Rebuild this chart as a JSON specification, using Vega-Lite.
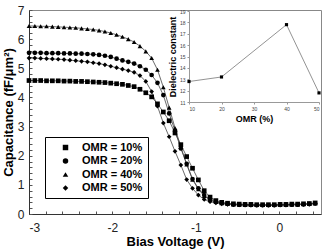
{
  "$schema": "https://vega.github.io/schema/vega-lite/v6.json",
  "width": 292,
  "height": 204,
  "autosize": "none",
  "padding": {"left": 29, "top": 10, "right": 5, "bottom": 36},
  "background": "white",
  "config": {
    "view": {"stroke": "#888", "strokeWidth": 1},
    "font": "Liberation Sans"
  },
  "datasets": {
    "cv": [
      {"v": -3, "c": 4.58, "s": "OMR = 10%"}, {"v": -2.93, "c": 4.58, "s": "OMR = 10%"}, {"v": -2.86, "c": 4.58, "s": "OMR = 10%"}, {"v": -2.79, "c": 4.57, "s": "OMR = 10%"}, {"v": -2.72, "c": 4.57, "s": "OMR = 10%"}, {"v": -2.65, "c": 4.57, "s": "OMR = 10%"}, {"v": -2.58, "c": 4.56, "s": "OMR = 10%"}, {"v": -2.51, "c": 4.56, "s": "OMR = 10%"}, {"v": -2.44, "c": 4.55, "s": "OMR = 10%"}, {"v": -2.37, "c": 4.55, "s": "OMR = 10%"},
      {"v": -2.3, "c": 4.54, "s": "OMR = 10%"}, {"v": -2.23, "c": 4.53, "s": "OMR = 10%"}, {"v": -2.16, "c": 4.52, "s": "OMR = 10%"}, {"v": -2.09, "c": 4.51, "s": "OMR = 10%"}, {"v": -2.02, "c": 4.49, "s": "OMR = 10%"}, {"v": -1.95, "c": 4.47, "s": "OMR = 10%"}, {"v": -1.88, "c": 4.45, "s": "OMR = 10%"}, {"v": -1.81, "c": 4.41, "s": "OMR = 10%"}, {"v": -1.74, "c": 4.37, "s": "OMR = 10%"}, {"v": -1.67, "c": 4.28, "s": "OMR = 10%"},
      {"v": -1.6, "c": 4.16, "s": "OMR = 10%"}, {"v": -1.53, "c": 4.02, "s": "OMR = 10%"}, {"v": -1.46, "c": 3.78, "s": "OMR = 10%"}, {"v": -1.39, "c": 3.5, "s": "OMR = 10%"}, {"v": -1.32, "c": 3.2, "s": "OMR = 10%"}, {"v": -1.25, "c": 2.78, "s": "OMR = 10%"}, {"v": -1.18, "c": 2.38, "s": "OMR = 10%"}, {"v": -1.11, "c": 1.97, "s": "OMR = 10%"}, {"v": -1.04, "c": 1.57, "s": "OMR = 10%"}, {"v": -0.97, "c": 1.17, "s": "OMR = 10%"},
      {"v": -0.9, "c": 0.8, "s": "OMR = 10%"}, {"v": -0.83, "c": 0.58, "s": "OMR = 10%"}, {"v": -0.76, "c": 0.46, "s": "OMR = 10%"}, {"v": -0.69, "c": 0.4, "s": "OMR = 10%"}, {"v": -0.62, "c": 0.37, "s": "OMR = 10%"}, {"v": -0.55, "c": 0.35, "s": "OMR = 10%"}, {"v": -0.48, "c": 0.34, "s": "OMR = 10%"}, {"v": -0.41, "c": 0.33, "s": "OMR = 10%"}, {"v": -0.34, "c": 0.33, "s": "OMR = 10%"}, {"v": -0.27, "c": 0.32, "s": "OMR = 10%"},
      {"v": -0.2, "c": 0.32, "s": "OMR = 10%"}, {"v": -0.13, "c": 0.32, "s": "OMR = 10%"}, {"v": -0.06, "c": 0.32, "s": "OMR = 10%"}, {"v": 0.01, "c": 0.33, "s": "OMR = 10%"}, {"v": 0.08, "c": 0.33, "s": "OMR = 10%"}, {"v": 0.15, "c": 0.34, "s": "OMR = 10%"}, {"v": 0.22, "c": 0.34, "s": "OMR = 10%"}, {"v": 0.29, "c": 0.35, "s": "OMR = 10%"}, {"v": 0.36, "c": 0.36, "s": "OMR = 10%"}, {"v": 0.43, "c": 0.38, "s": "OMR = 10%"},

      {"v": -3, "c": 5.53, "s": "OMR = 20%"}, {"v": -2.93, "c": 5.53, "s": "OMR = 20%"}, {"v": -2.86, "c": 5.53, "s": "OMR = 20%"}, {"v": -2.79, "c": 5.52, "s": "OMR = 20%"}, {"v": -2.72, "c": 5.52, "s": "OMR = 20%"}, {"v": -2.65, "c": 5.52, "s": "OMR = 20%"}, {"v": -2.58, "c": 5.51, "s": "OMR = 20%"}, {"v": -2.51, "c": 5.51, "s": "OMR = 20%"}, {"v": -2.44, "c": 5.5, "s": "OMR = 20%"}, {"v": -2.37, "c": 5.5, "s": "OMR = 20%"},
      {"v": -2.3, "c": 5.49, "s": "OMR = 20%"}, {"v": -2.23, "c": 5.48, "s": "OMR = 20%"}, {"v": -2.16, "c": 5.46, "s": "OMR = 20%"}, {"v": -2.09, "c": 5.43, "s": "OMR = 20%"}, {"v": -2.02, "c": 5.39, "s": "OMR = 20%"}, {"v": -1.95, "c": 5.33, "s": "OMR = 20%"}, {"v": -1.88, "c": 5.27, "s": "OMR = 20%"}, {"v": -1.81, "c": 5.22, "s": "OMR = 20%"}, {"v": -1.74, "c": 5.16, "s": "OMR = 20%"}, {"v": -1.67, "c": 5.07, "s": "OMR = 20%"},
      {"v": -1.6, "c": 4.95, "s": "OMR = 20%"}, {"v": -1.53, "c": 4.77, "s": "OMR = 20%"}, {"v": -1.46, "c": 4.5, "s": "OMR = 20%"}, {"v": -1.39, "c": 4.08, "s": "OMR = 20%"}, {"v": -1.32, "c": 3.45, "s": "OMR = 20%"}, {"v": -1.25, "c": 2.85, "s": "OMR = 20%"}, {"v": -1.18, "c": 2.25, "s": "OMR = 20%"}, {"v": -1.11, "c": 1.72, "s": "OMR = 20%"}, {"v": -1.04, "c": 1.2, "s": "OMR = 20%"}, {"v": -0.97, "c": 0.88, "s": "OMR = 20%"},
      {"v": -0.9, "c": 0.65, "s": "OMR = 20%"}, {"v": -0.83, "c": 0.5, "s": "OMR = 20%"}, {"v": -0.76, "c": 0.42, "s": "OMR = 20%"}, {"v": -0.69, "c": 0.38, "s": "OMR = 20%"}, {"v": -0.62, "c": 0.35, "s": "OMR = 20%"}, {"v": -0.55, "c": 0.33, "s": "OMR = 20%"}, {"v": -0.48, "c": 0.32, "s": "OMR = 20%"}, {"v": -0.41, "c": 0.31, "s": "OMR = 20%"}, {"v": -0.34, "c": 0.31, "s": "OMR = 20%"}, {"v": -0.27, "c": 0.3, "s": "OMR = 20%"},
      {"v": -0.2, "c": 0.3, "s": "OMR = 20%"}, {"v": -0.13, "c": 0.3, "s": "OMR = 20%"}, {"v": -0.06, "c": 0.3, "s": "OMR = 20%"}, {"v": 0.01, "c": 0.31, "s": "OMR = 20%"}, {"v": 0.08, "c": 0.31, "s": "OMR = 20%"}, {"v": 0.15, "c": 0.32, "s": "OMR = 20%"}, {"v": 0.22, "c": 0.32, "s": "OMR = 20%"}, {"v": 0.29, "c": 0.33, "s": "OMR = 20%"}, {"v": 0.36, "c": 0.34, "s": "OMR = 20%"}, {"v": 0.43, "c": 0.36, "s": "OMR = 20%"},

      {"v": -3, "c": 6.45, "s": "OMR = 40%"}, {"v": -2.93, "c": 6.45, "s": "OMR = 40%"}, {"v": -2.86, "c": 6.44, "s": "OMR = 40%"}, {"v": -2.79, "c": 6.44, "s": "OMR = 40%"}, {"v": -2.72, "c": 6.43, "s": "OMR = 40%"}, {"v": -2.65, "c": 6.42, "s": "OMR = 40%"}, {"v": -2.58, "c": 6.41, "s": "OMR = 40%"}, {"v": -2.51, "c": 6.4, "s": "OMR = 40%"}, {"v": -2.44, "c": 6.39, "s": "OMR = 40%"}, {"v": -2.37, "c": 6.37, "s": "OMR = 40%"},
      {"v": -2.3, "c": 6.35, "s": "OMR = 40%"}, {"v": -2.23, "c": 6.33, "s": "OMR = 40%"}, {"v": -2.16, "c": 6.3, "s": "OMR = 40%"}, {"v": -2.09, "c": 6.26, "s": "OMR = 40%"}, {"v": -2.02, "c": 6.21, "s": "OMR = 40%"}, {"v": -1.95, "c": 6.15, "s": "OMR = 40%"}, {"v": -1.88, "c": 6.08, "s": "OMR = 40%"}, {"v": -1.81, "c": 6.0, "s": "OMR = 40%"}, {"v": -1.74, "c": 5.9, "s": "OMR = 40%"}, {"v": -1.67, "c": 5.76, "s": "OMR = 40%"},
      {"v": -1.6, "c": 5.58, "s": "OMR = 40%"}, {"v": -1.53, "c": 5.35, "s": "OMR = 40%"}, {"v": -1.46, "c": 4.95, "s": "OMR = 40%"}, {"v": -1.39, "c": 4.35, "s": "OMR = 40%"}, {"v": -1.32, "c": 3.65, "s": "OMR = 40%"}, {"v": -1.25, "c": 2.95, "s": "OMR = 40%"}, {"v": -1.18, "c": 2.3, "s": "OMR = 40%"}, {"v": -1.11, "c": 1.7, "s": "OMR = 40%"}, {"v": -1.04, "c": 1.18, "s": "OMR = 40%"}, {"v": -0.97, "c": 0.85, "s": "OMR = 40%"},
      {"v": -0.9, "c": 0.62, "s": "OMR = 40%"}, {"v": -0.83, "c": 0.48, "s": "OMR = 40%"}, {"v": -0.76, "c": 0.41, "s": "OMR = 40%"}, {"v": -0.69, "c": 0.37, "s": "OMR = 40%"}, {"v": -0.62, "c": 0.35, "s": "OMR = 40%"}, {"v": -0.55, "c": 0.33, "s": "OMR = 40%"}, {"v": -0.48, "c": 0.32, "s": "OMR = 40%"}, {"v": -0.41, "c": 0.32, "s": "OMR = 40%"}, {"v": -0.34, "c": 0.31, "s": "OMR = 40%"}, {"v": -0.27, "c": 0.31, "s": "OMR = 40%"},
      {"v": -0.2, "c": 0.31, "s": "OMR = 40%"}, {"v": -0.13, "c": 0.31, "s": "OMR = 40%"}, {"v": -0.06, "c": 0.31, "s": "OMR = 40%"}, {"v": 0.01, "c": 0.32, "s": "OMR = 40%"}, {"v": 0.08, "c": 0.32, "s": "OMR = 40%"}, {"v": 0.15, "c": 0.33, "s": "OMR = 40%"}, {"v": 0.22, "c": 0.33, "s": "OMR = 40%"}, {"v": 0.29, "c": 0.34, "s": "OMR = 40%"}, {"v": 0.36, "c": 0.35, "s": "OMR = 40%"}, {"v": 0.43, "c": 0.37, "s": "OMR = 40%"},

      {"v": -3, "c": 5.35, "s": "OMR = 50%"}, {"v": -2.93, "c": 5.35, "s": "OMR = 50%"}, {"v": -2.86, "c": 5.34, "s": "OMR = 50%"}, {"v": -2.79, "c": 5.33, "s": "OMR = 50%"}, {"v": -2.72, "c": 5.32, "s": "OMR = 50%"}, {"v": -2.65, "c": 5.31, "s": "OMR = 50%"}, {"v": -2.58, "c": 5.3, "s": "OMR = 50%"}, {"v": -2.51, "c": 5.28, "s": "OMR = 50%"}, {"v": -2.44, "c": 5.26, "s": "OMR = 50%"}, {"v": -2.37, "c": 5.24, "s": "OMR = 50%"},
      {"v": -2.3, "c": 5.22, "s": "OMR = 50%"}, {"v": -2.23, "c": 5.19, "s": "OMR = 50%"}, {"v": -2.16, "c": 5.16, "s": "OMR = 50%"}, {"v": -2.09, "c": 5.12, "s": "OMR = 50%"}, {"v": -2.02, "c": 5.07, "s": "OMR = 50%"}, {"v": -1.95, "c": 5.02, "s": "OMR = 50%"}, {"v": -1.88, "c": 4.97, "s": "OMR = 50%"}, {"v": -1.81, "c": 4.92, "s": "OMR = 50%"}, {"v": -1.74, "c": 4.86, "s": "OMR = 50%"}, {"v": -1.67, "c": 4.75, "s": "OMR = 50%"},
      {"v": -1.6, "c": 4.55, "s": "OMR = 50%"}, {"v": -1.53, "c": 4.2, "s": "OMR = 50%"}, {"v": -1.46, "c": 3.7, "s": "OMR = 50%"}, {"v": -1.39, "c": 3.12, "s": "OMR = 50%"}, {"v": -1.32, "c": 2.65, "s": "OMR = 50%"}, {"v": -1.25, "c": 2.15, "s": "OMR = 50%"}, {"v": -1.18, "c": 1.68, "s": "OMR = 50%"}, {"v": -1.11, "c": 1.18, "s": "OMR = 50%"}, {"v": -1.04, "c": 0.88, "s": "OMR = 50%"}, {"v": -0.97, "c": 0.65, "s": "OMR = 50%"},
      {"v": -0.9, "c": 0.5, "s": "OMR = 50%"}, {"v": -0.83, "c": 0.42, "s": "OMR = 50%"}, {"v": -0.76, "c": 0.38, "s": "OMR = 50%"}, {"v": -0.69, "c": 0.35, "s": "OMR = 50%"}, {"v": -0.62, "c": 0.33, "s": "OMR = 50%"}, {"v": -0.55, "c": 0.32, "s": "OMR = 50%"}, {"v": -0.48, "c": 0.31, "s": "OMR = 50%"}, {"v": -0.41, "c": 0.31, "s": "OMR = 50%"}, {"v": -0.34, "c": 0.3, "s": "OMR = 50%"}, {"v": -0.27, "c": 0.3, "s": "OMR = 50%"},
      {"v": -0.2, "c": 0.3, "s": "OMR = 50%"}, {"v": -0.13, "c": 0.3, "s": "OMR = 50%"}, {"v": -0.06, "c": 0.3, "s": "OMR = 50%"}, {"v": 0.01, "c": 0.31, "s": "OMR = 50%"}, {"v": 0.08, "c": 0.31, "s": "OMR = 50%"}, {"v": 0.15, "c": 0.32, "s": "OMR = 50%"}, {"v": 0.22, "c": 0.32, "s": "OMR = 50%"}, {"v": 0.29, "c": 0.33, "s": "OMR = 50%"}, {"v": 0.36, "c": 0.34, "s": "OMR = 50%"}, {"v": 0.43, "c": 0.36, "s": "OMR = 50%"}
    ],
    "inset": [
      {"omr": 10, "k": 12.8},
      {"omr": 20, "k": 13.2},
      {"omr": 40, "k": 17.8},
      {"omr": 50, "k": 11.8}
    ]
  },
  "layer": [
    {
      "data": {"name": "cv"},
      "encoding": {
        "x": {
          "field": "v", "type": "quantitative",
          "scale": {"domain": [-3, 0.5], "nice": false, "zero": false},
          "axis": {
            "title": "Bias Voltage (V)",
            "values": [-3, -2.8, -2.6, -2.4, -2.2, -2, -1.8, -1.6, -1.4, -1.2, -1, -0.8, -0.6, -0.4, -0.2, 0, 0.2, 0.4],
            "labelExpr": "datum.value % 1 === 0 ? '' + datum.value : ''",
            "grid": false, "domainColor": "#333", "tickColor": "#555",
            "tickSize": -3, "labelPadding": 11,
            "labelFont": "Liberation Sans", "labelFontSize": 12, "labelColor": "#222",
            "titleFont": "Liberation Sans", "titleFontSize": 13, "titleFontWeight": "bold", "titleColor": "black",
            "titlePadding": 2
          }
        },
        "y": {
          "field": "c", "type": "quantitative",
          "scale": {"domain": [0, 7], "nice": false},
          "axis": {
            "title": "Capacitance (fF/μm²)",
            "values": [0, 0.2, 0.4, 0.6, 0.8, 1, 1.2, 1.4, 1.6, 1.8, 2, 2.2, 2.4, 2.6, 2.8, 3, 3.2, 3.4, 3.6, 3.8, 4, 4.2, 4.4, 4.6, 4.8, 5, 5.2, 5.4, 5.6, 5.8, 6, 6.2, 6.4, 6.6, 6.8, 7],
            "labelExpr": "datum.value % 1 === 0 ? '' + datum.value : ''",
            "grid": false, "domainColor": "#333", "tickColor": "#555",
            "tickSize": -3, "labelPadding": 8,
            "labelFont": "Liberation Sans", "labelFontSize": 12, "labelColor": "#222",
            "titleFont": "Liberation Sans", "titleFontSize": 13, "titleFontWeight": "bold", "titleColor": "black",
            "titlePadding": 2
          }
        }
      },
      "layer": [
        {"mark": {"type": "line", "color": "#444", "strokeWidth": 0.8}, "encoding": {"detail": {"field": "s"}}},
        {
          "mark": {"type": "point", "filled": true, "color": "black", "size": 22, "opacity": 1},
          "encoding": {
            "shape": {
              "field": "s", "type": "nominal",
              "scale": {
                "domain": ["OMR = 10%", "OMR = 20%", "OMR = 40%", "OMR = 50%"],
                "range": ["square", "circle", "triangle-up", "diamond"]
              },
              "legend": {
                "title": null, "orient": "bottom-left", "offset": 16,
                "strokeColor": "black", "fillColor": "white", "padding": 5,
                "symbolSize": 30, "symbolStrokeWidth": 0, "symbolFillColor": "black", "symbolOpacity": 1,
                "symbolOffset": 10,
                "labelFont": "Liberation Sans", "labelFontSize": 11, "labelFontWeight": "bold", "labelColor": "black",
                "labelOffset": 11, "rowPadding": 1.5
              }
            }
          }
        }
      ]
    },
    {
      "data": {"name": "inset"},
      "encoding": {
        "x": {
          "field": "omr", "type": "quantitative",
          "scale": {"domain": [10, 50], "range": [160, 290], "nice": false, "zero": false},
          "axis": {
            "title": "OMR (%)", "orient": "bottom", "offset": -112,
            "values": [10, 20, 30, 40, 50],
            "grid": false, "domainColor": "#999", "tickColor": "#999", "tickSize": 2,
            "labelFont": "Liberation Sans", "labelFontSize": 5, "labelColor": "#444", "labelPadding": 2,
            "titleFont": "Liberation Sans", "titleFontSize": 9, "titleFontWeight": "bold", "titleColor": "black", "titlePadding": 3
          }
        },
        "y": {
          "field": "k", "type": "quantitative",
          "scale": {"domain": [11, 19], "range": [92, 1], "nice": false, "zero": false},
          "axis": {
            "title": "Dielectric constant", "orient": "left", "offset": -160,
            "values": [11, 12, 13, 14, 15, 16, 17, 18, 19],
            "grid": false, "domainColor": "#999", "tickColor": "#999", "tickSize": 2,
            "labelFont": "Liberation Sans", "labelFontSize": 5, "labelColor": "#444", "labelPadding": 2,
            "titleFont": "Liberation Sans", "titleFontSize": 9, "titleFontWeight": "bold", "titleColor": "black", "titlePadding": 2
          }
        }
      },
      "layer": [
        {
          "data": {"values": [{}]},
          "mark": {"type": "rect", "fill": "white", "stroke": "#999", "strokeWidth": 0.8},
          "encoding": {
            "x": {"datum": 10, "type": "quantitative"},
            "x2": {"datum": 50},
            "y": {"datum": 11, "type": "quantitative"},
            "y2": {"datum": 19}
          }
        },
        {"mark": {"type": "line", "color": "#777", "strokeWidth": 0.8}},
        {"mark": {"type": "point", "filled": true, "color": "black", "size": 10, "shape": "square", "opacity": 1}}
      ]
    }
  ],
  "resolve": {
    "scale": {"x": "independent", "y": "independent"},
    "axis": {"x": "independent", "y": "independent"}
  }
}
